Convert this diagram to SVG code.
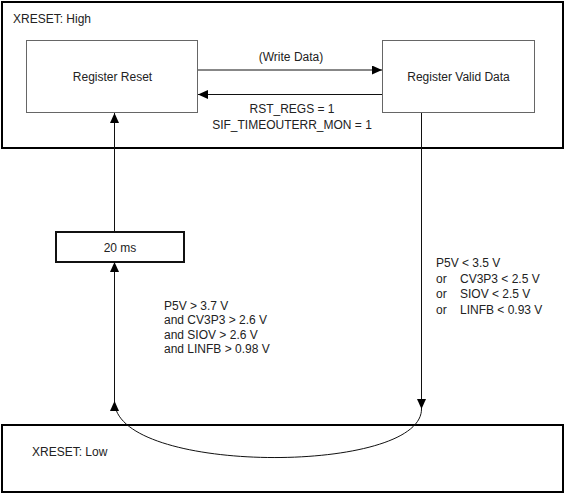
<svg xmlns="http://www.w3.org/2000/svg" width="565" height="494" viewBox="0 0 565 494">
<style>
  text { font-family: "Liberation Sans", Arial, sans-serif; font-size: 12px; fill: #222; }
  .outer { fill: #fff; stroke: #000; stroke-width: 2; }
  .inner { fill: #fff; stroke: #666; stroke-width: 1; }
  .timer { fill: #fff; stroke: #111; stroke-width: 2; }
  .conn { fill: none; stroke: #111; stroke-width: 1; marker-end: url(#arrow); }
  .mid { text-anchor: middle; }
</style>
<defs>
  <marker id="arrow" markerUnits="userSpaceOnUse" markerWidth="10" markerHeight="9" refX="10" refY="4.5" orient="auto">
    <path d="M0,0 L10,4.5 L0,9 z" fill="#000"/>
  </marker>
</defs>
<rect width="565" height="494" fill="#fff"/>
<g id="xreset-high">
  <rect class="outer" x="2" y="2" width="561" height="146"/>
  <text x="13" y="23">XRESET: High</text>
</g>
<g id="xreset-low">
  <rect class="outer" x="2" y="425" width="561" height="67"/>
  <text x="32" y="456">XRESET: Low</text>
</g>
<g id="register-reset">
  <rect class="inner" x="26.5" y="40.5" width="171" height="72"/>
  <text class="mid" x="112.5" y="81">Register Reset</text>
</g>
<g id="register-valid-data">
  <rect class="inner" x="382.5" y="40.5" width="152" height="72"/>
  <text class="mid" x="458.5" y="81">Register Valid Data</text>
</g>
<g id="timer-20ms">
  <rect class="timer" x="56" y="232" width="128" height="30"/>
  <text class="mid" x="120" y="252">20 ms</text>
</g>
<g id="connectors">
  <path class="conn" d="M198,70 L382,70"/>
  <path class="conn" d="M382,94.5 L198,94.5"/>
  <path class="conn" d="M114.5,232 L114.5,113"/>
  <path class="conn" d="M114.5,401 L114.5,262"/>
  <path class="conn" d="M421.5,113 L421.5,409"/>
  <path class="conn" d="M421.5,409 C421.5,475 114.5,475 114.5,401"/>
</g>
<g id="labels">
  <text class="mid" x="291" y="61">(Write Data)</text>
  <text class="mid" x="292" y="113">RST_REGS = 1</text>
  <text class="mid" x="292" y="129">SIF_TIMEOUTERR_MON = 1</text>
  <text x="164" y="310">P5V &gt; 3.7 V</text>
  <text x="164" y="324">and CV3P3 &gt; 2.6 V</text>
  <text x="164" y="339">and SIOV &gt; 2.6 V</text>
  <text x="164" y="353">and LINFB &gt; 0.98 V</text>
  <text x="436" y="267">P5V &lt; 3.5 V</text>
  <text x="436" y="282.5">or</text>
  <text x="460" y="282.5">CV3P3 &lt; 2.5 V</text>
  <text x="436" y="298">or</text>
  <text x="460" y="298">SIOV &lt; 2.5 V</text>
  <text x="436" y="313.5">or</text>
  <text x="460" y="313.5">LINFB &lt; 0.93 V</text>
</g>
</svg>
